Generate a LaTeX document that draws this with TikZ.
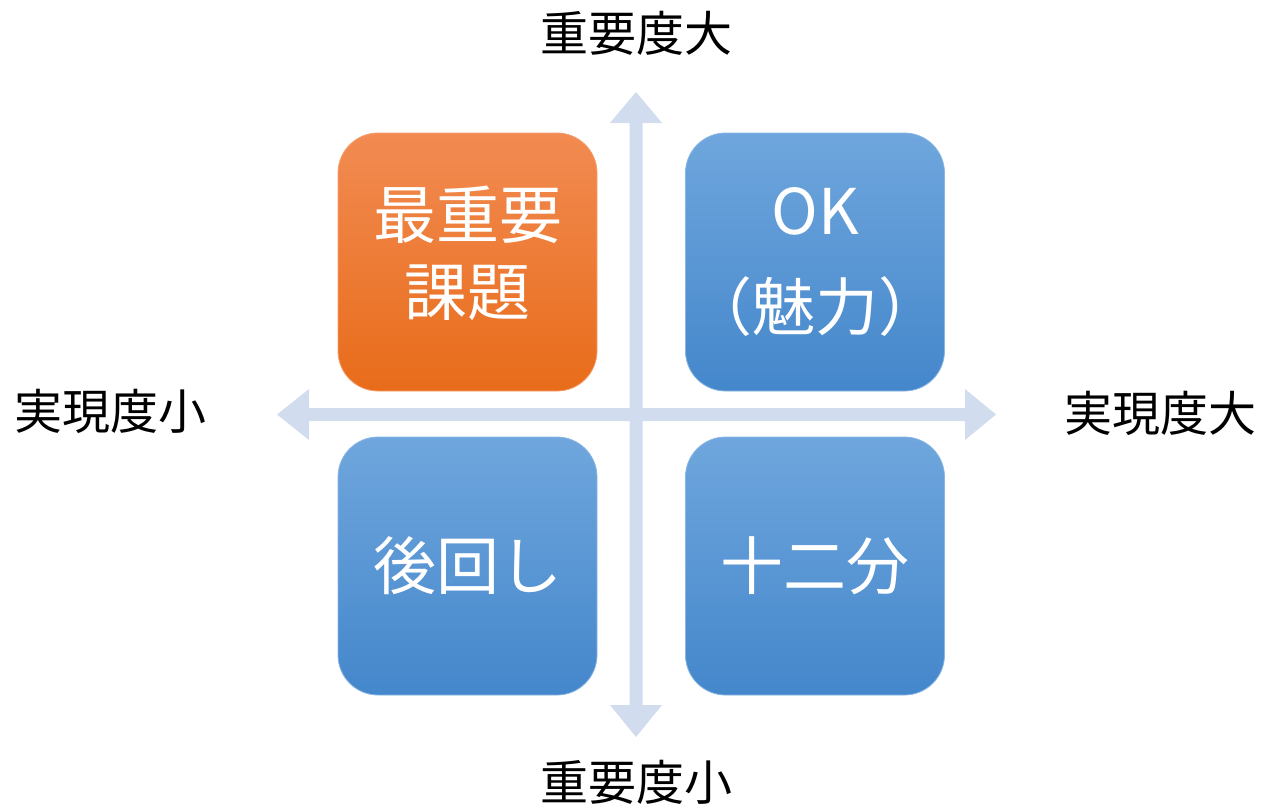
\documentclass[tikz,border=0pt]{standalone}
\usepackage{fontspec}
\setmainfont{Noto Sans CJK JP}
\begin{document}
\begin{tikzpicture}[x=1pt,y=-1pt,
  axisfill/.style={fill=axisc},
  quad/.style={minimum width=259pt,minimum height=258pt,rounded corners=40pt,
    inner sep=0pt,align=center,text=white,font=\fontsize{63}{75}\selectfont},
  orangebox/.style={quad,top color=orTop,bottom color=orBot,draw=orDraw,line width=0.8pt},
  bluebox/.style={quad,top color=blTop,bottom color=blBot,draw=blDraw,line width=0.8pt},
  lbl/.style={font=\fontsize{48}{54}\selectfont,text=black,inner sep=0pt}]
\definecolor{axisc}{HTML}{D1DCEE}
\definecolor{orTop}{HTML}{F28B52}
\definecolor{orBot}{HTML}{E86C1A}
\definecolor{orDraw}{HTML}{F4A070}
\definecolor{blTop}{HTML}{6FA6DD}
\definecolor{blBot}{HTML}{4487CB}
\definecolor{blDraw}{HTML}{8AB6E4}
\useasboundingbox (0,0) rectangle (1263,807);
% axes
\fill[axisfill] (636,92) -- (662,123) -- (642.5,123) -- (642.5,705) -- (662,705) -- (636,737)
  -- (610,705) -- (629.5,705) -- (629.5,123) -- (610,123) -- cycle;
\fill[axisfill] (277,414.5) -- (309,389) -- (309,408) -- (965,408) -- (965,389) -- (996,414.5)
  -- (965,440) -- (965,421) -- (309,421) -- (309,440) -- cycle;
% boxes
\node[orangebox] (q1) at (467.5,262) {\raisebox{5pt}{\begin{tabular}{@{}c@{}}最重要\\[2pt]課題\end{tabular}}};
\node[bluebox,font=\fontsize{63}{96}\selectfont] (q2) at (815,262) {OK\\（魅力）};
\node[bluebox] (q3) at (467.5,566) {\raisebox{3pt}{後回し}};
\node[bluebox] (q4) at (815,566) {\raisebox{3pt}{十二分}};
% labels
\node[lbl] (top) at (636,33) {重要度大};
\node[lbl] (bot) at (636,782) {重要度小};
\node[lbl] (left) at (110,411) {実現度小};
\node[lbl] (right) at (1160,413) {実現度大};
\end{tikzpicture}
\end{document}
